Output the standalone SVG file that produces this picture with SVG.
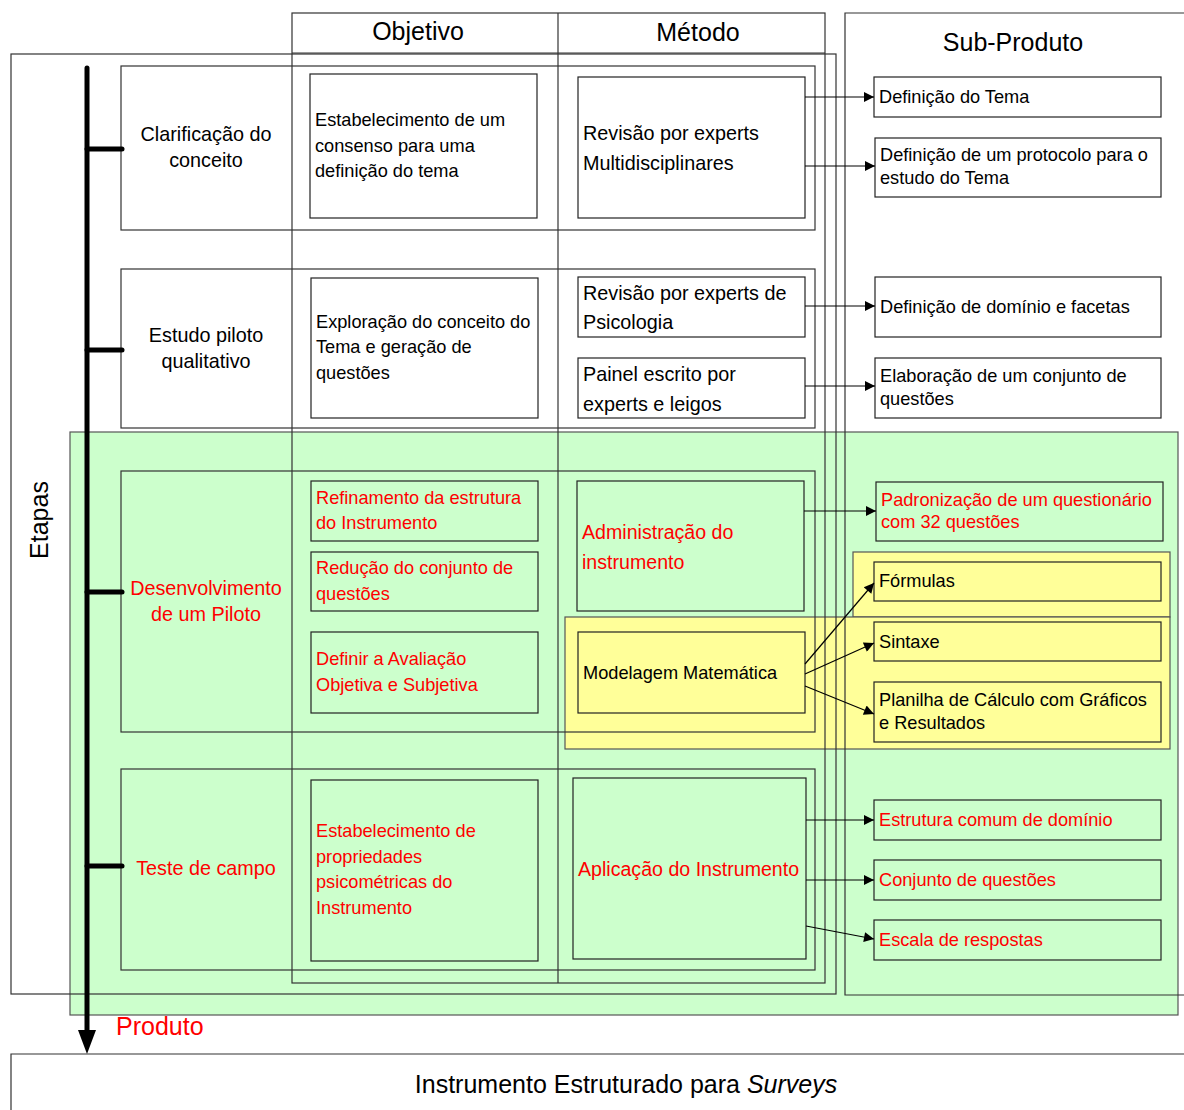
<svg xmlns="http://www.w3.org/2000/svg" width="1184" height="1110" viewBox="0 0 1184 1110">
<style>
text{font-family:"Liberation Sans",Arial,sans-serif;fill:#000}
.frame{fill:none;stroke:#333;stroke-width:1.2}
.box{fill:none;stroke:#222;stroke-width:1.2}
.t17{font-size:18.2px}
.t19{font-size:19.8px}
.t20{font-size:19.6px}
.hd{font-size:25px}
.red{fill:#ff0000}
.c{text-anchor:middle}
.conn{stroke:#000;stroke-width:1.2;fill:none;marker-end:url(#ah)}
</style>
<defs>
<marker id="ah" viewBox="0 0 10 10" refX="10" refY="5" markerWidth="14" markerHeight="10" markerUnits="userSpaceOnUse" orient="auto"><path d="M0,0 L10,5 L0,10 z" fill="#000"/></marker>
</defs>
<rect width="1184" height="1110" fill="#fff"/>
<g id="regions">
<rect x="70" y="432" width="1108" height="583" fill="#ccffcc" stroke="#555" stroke-width="1.2"/>
<rect x="853" y="552" width="317" height="65" fill="#ffff99" stroke="#555" stroke-width="1.2"/>
<rect x="565" y="617" width="605" height="132" fill="#ffff99" stroke="#555" stroke-width="1.2"/>
</g>
<g id="frames">
<rect class="frame" x="11" y="54" width="825" height="940"/>
<rect class="frame" x="292" y="13" width="533" height="970"/>
<line class="frame" x1="558" y1="13" x2="558" y2="983"/>
<line class="frame" x1="292" y1="53" x2="825" y2="53"/>
<polyline class="frame" points="1184,13 845,13 845,995 1184,995"/>
<text class="c hd" x="418" y="40">Objetivo</text>
<text class="c hd" x="698" y="41">Método</text>
<text class="c hd" x="1013" y="51">Sub-Produto</text>
</g>
<g id="stage1">
<rect class="frame" x="121" y="66" width="694" height="164"/>
<text class="c t19" x="206" y="141">Clarificação do</text>
<text class="c t19" x="206" y="167">conceito</text>
</g>
<g id="stage2">
<rect class="frame" x="121" y="269" width="694" height="159"/>
<text class="c t19" x="206" y="342">Estudo piloto</text>
<text class="c t19" x="206" y="368">qualitativo</text>
</g>
<g id="stage3">
<rect class="frame" x="121" y="471" width="694" height="261"/>
<text class="c t19 red" x="206" y="595">Desenvolvimento</text>
<text class="c t19 red" x="206" y="621">de um Piloto</text>
</g>
<g id="stage4">
<rect class="frame" x="121" y="769" width="694" height="201"/>
<text class="c t19 red" x="206" y="875">Teste de campo</text>
</g>
<g id="obj1">
<rect class="box" x="310" y="74" width="227" height="144"/>
<text class="t17" x="315" y="126">Estabelecimento de um</text>
<text class="t17" x="315" y="152">consenso para uma</text>
<text class="t17" x="315" y="177">definição do tema</text>
</g>
<g id="obj2">
<rect class="box" x="311" y="278" width="227" height="140"/>
<text class="t17" x="316" y="328">Exploração do conceito do</text>
<text class="t17" x="316" y="353">Tema e geração de</text>
<text class="t17" x="316" y="379">questões</text>
</g>
<g id="obj3a">
<rect class="box" x="311" y="481" width="227" height="60"/>
<text class="t17 red" x="316" y="504">Refinamento da estrutura</text>
<text class="t17 red" x="316" y="529">do Instrumento</text>
</g>
<g id="obj3b">
<rect class="box" x="311" y="552" width="227" height="59"/>
<text class="t17 red" x="316" y="574">Redução do conjunto de</text>
<text class="t17 red" x="316" y="600">questões</text>
</g>
<g id="obj3c">
<rect class="box" x="311" y="632" width="227" height="81"/>
<text class="t17 red" x="316" y="665">Definir a Avaliação</text>
<text class="t17 red" x="316" y="691">Objetiva e Subjetiva</text>
</g>
<g id="obj4">
<rect class="box" x="311" y="780" width="227" height="181"/>
<text class="t17 red" x="316" y="837">Estabelecimento de</text>
<text class="t17 red" x="316" y="863">propriedades</text>
<text class="t17 red" x="316" y="888">psicométricas do</text>
<text class="t17 red" x="316" y="914">Instrumento</text>
</g>
<g id="met1">
<rect class="box" x="578" y="77" width="227" height="141"/>
<text class="t19" x="583" y="140">Revisão por experts</text>
<text class="t19" x="583" y="170">Multidisciplinares</text>
</g>
<g id="met2a">
<rect class="box" x="578" y="277" width="227" height="60"/>
<text class="t19" x="583" y="300">Revisão por experts de</text>
<text class="t19" x="583" y="329">Psicologia</text>
</g>
<g id="met2b">
<rect class="box" x="578" y="358" width="227" height="60"/>
<text class="t19" x="583" y="381">Painel escrito por</text>
<text class="t19" x="583" y="411">experts e leigos</text>
</g>
<g id="met3a">
<rect class="box" x="577" y="481" width="227" height="130"/>
<text class="t20 red" x="582" y="539">Administração do</text>
<text class="t20 red" x="582" y="569">instrumento</text>
</g>
<g id="met3b">
<rect class="box" x="578" y="632" width="227" height="81"/>
<text class="t17" x="583" y="679">Modelagem Matemática</text>
</g>
<g id="met4">
<rect class="box" x="573" y="778" width="233" height="181"/>
<text class="t20 red" x="578" y="876">Aplicação do Instrumento</text>
</g>
<g id="sub1a">
<rect class="box" x="874" y="77" width="287" height="40"/>
<text class="t17" x="879" y="103">Definição do Tema</text>
</g>
<g id="sub1b">
<rect class="box" x="875" y="138" width="286" height="59"/>
<text class="t17" x="880" y="161">Definição de um protocolo para o</text>
<text class="t17" x="880" y="184">estudo do Tema</text>
</g>
<g id="sub2a">
<rect class="box" x="875" y="277" width="286" height="60"/>
<text class="t17" x="880" y="313">Definição de domínio e facetas</text>
</g>
<g id="sub2b">
<rect class="box" x="875" y="358" width="286" height="60"/>
<text class="t17" x="880" y="382">Elaboração de um conjunto de</text>
<text class="t17" x="880" y="405">questões</text>
</g>
<g id="sub3a">
<rect class="box" x="876" y="482" width="287" height="59"/>
<text class="t17 red" x="881" y="506">Padronização de um questionário</text>
<text class="t17 red" x="881" y="528">com 32 questões</text>
</g>
<g id="sub3b">
<rect class="box" x="874" y="562" width="287" height="39"/>
<text class="t17" x="879" y="587">Fórmulas</text>
</g>
<g id="sub3c">
<rect class="box" x="874" y="622" width="287" height="39"/>
<text class="t17" x="879" y="648">Sintaxe</text>
</g>
<g id="sub3d">
<rect class="box" x="874" y="682" width="287" height="60"/>
<text class="t17" x="879" y="706">Planilha de Cálculo com Gráficos</text>
<text class="t17" x="879" y="729">e Resultados</text>
</g>
<g id="sub4a">
<rect class="box" x="874" y="800" width="287" height="40"/>
<text class="t17 red" x="879" y="826">Estrutura comum de domínio</text>
</g>
<g id="sub4b">
<rect class="box" x="874" y="860" width="287" height="40"/>
<text class="t17 red" x="879" y="886">Conjunto de questões</text>
</g>
<g id="sub4c">
<rect class="box" x="874" y="920" width="287" height="40"/>
<text class="t17 red" x="879" y="946">Escala de respostas</text>
</g>
<g id="timeline">
<line x1="87" y1="68" x2="87" y2="1036" stroke="#000" stroke-width="5" stroke-linecap="round"/>
<path d="M78,1030 L96,1030 L87,1054 z" fill="#000"/>
<line x1="87" y1="149" x2="122" y2="149" stroke="#000" stroke-width="5" stroke-linecap="round"/>
<line x1="87" y1="350" x2="122" y2="350" stroke="#000" stroke-width="5" stroke-linecap="round"/>
<line x1="87" y1="592" x2="122" y2="592" stroke="#000" stroke-width="5" stroke-linecap="round"/>
<line x1="87" y1="866" x2="122" y2="866" stroke="#000" stroke-width="5" stroke-linecap="round"/>
<text class="c hd" transform="translate(48,520) rotate(-90)">Etapas</text>
<text class="red hd" x="116" y="1035">Produto</text>
</g>
<g id="product">
<polyline class="frame" points="1184,1054 11,1054 11,1110"/>
<text class="c hd" x="626" y="1093">Instrumento Estruturado para <tspan font-style="italic">Surveys</tspan></text>
</g>
<g id="connectors">
<line class="conn" x1="805" y1="97" x2="874" y2="97"/>
<line class="conn" x1="805" y1="166" x2="875" y2="166"/>
<line class="conn" x1="805" y1="306" x2="875" y2="306"/>
<line class="conn" x1="805" y1="386" x2="875" y2="386"/>
<line class="conn" x1="804" y1="511" x2="876" y2="511"/>
<line class="conn" x1="805" y1="664" x2="874" y2="583"/>
<line class="conn" x1="805" y1="674" x2="874" y2="643"/>
<line class="conn" x1="805" y1="686" x2="874" y2="714"/>
<line class="conn" x1="806" y1="820" x2="874" y2="820"/>
<line class="conn" x1="806" y1="880" x2="874" y2="880"/>
<line class="conn" x1="806" y1="926" x2="874" y2="939"/>
</g>
</svg>
